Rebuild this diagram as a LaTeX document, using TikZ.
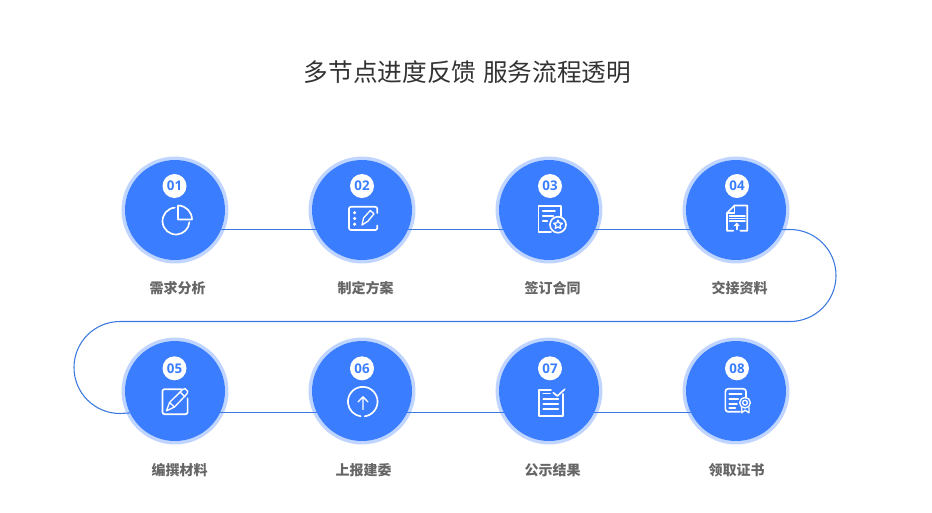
\documentclass[tikz,border=0pt]{standalone}
\usepackage{fontspec}
\setmainfont{Noto Sans CJK SC}
\newfontfamily\numfont{Open Sans}
\definecolor{mainblue}{HTML}{3A7DFF}
\definecolor{flowblue}{HTML}{3B78E0}
\definecolor{titlegray}{HTML}{333333}
\definecolor{labelgray}{HTML}{666666}
\tikzset{
  x=0.75pt,y=-0.75pt,
  disc/.style={circle,fill=mainblue,minimum size=75pt,inner sep=0pt,outer sep=0pt},
  ringline/.style={draw=mainblue,draw opacity=.32,line width=2.7pt},
  badge/.style={circle,fill=white,minimum size=18pt,inner sep=0pt,outer sep=0pt,text=mainblue,font=\numfont\bfseries\fontsize{10}{12}\selectfont},
  steplabel/.style={text=labelgray,font=\bfseries\fontsize{10.5}{12}\selectfont,inner sep=0pt},
  flow/.style={draw=flowblue,line width=0.8pt},
  icon/.style={draw=white,line width=1.25pt,line cap=round,line join=round},
  thinicon/.style={draw=white,line width=1pt,line cap=round,line join=round}
}
\begin{document}
\begin{tikzpicture}
\useasboundingbox[fill=white] (0,0) rectangle (932,512);
\node[inner sep=0pt,text=titlegray,font=\fontsize{18.5}{22}\selectfont] (title) at (467.5,72) {多节点进度反馈\kern1pt{} 服务流程透明};
% discs
\node[disc] (n1) at (175,210) {};
\node[disc] (n2) at (362,210) {};
\node[disc] (n3) at (549,210) {};
\node[disc] (n4) at (736,210) {};
\node[disc] (n5) at (175,391) {};
\node[disc] (n6) at (362,391) {};
\node[disc] (n7) at (549,391) {};
\node[disc] (n8) at (736,391) {};
% connectors
\coordinate (r1) at (790,229.5);
\coordinate (l1) at (120,321.5);
\draw[flow] (n1.-23) -- (n2.203);
\draw[flow] (n2.-23) -- (n3.203);
\draw[flow] (n3.-23) -- (n4.203);
\draw[flow] (n4.-23) -- (r1) arc[start angle=90,end angle=-90,radius=34.5pt]
  -- (l1) arc[start angle=90,end angle=270,radius=34.5pt] -- (n5.206.5);
\draw[flow] (n5.-26.5) -- (n6.206.5);
\draw[flow] (n6.-26.5) -- (n7.206.5);
\draw[flow] (n7.-26.5) -- (n8.206.5);
% rings
\foreach \n in {n1,n2,n3,n4,n5,n6,n7,n8} \draw[ringline] (\n) circle[radius=38.75pt];
% badges
\node[badge] (b1) at (174.5,186) {01};
\node[badge] (b2) at (362,186) {02};
\node[badge] (b3) at (550,186) {03};
\node[badge] (b4) at (737,186) {04};
\node[badge] (b5) at (174.5,368.3) {05};
\node[badge] (b6) at (362,368.3) {06};
\node[badge] (b7) at (550,368.3) {07};
\node[badge] (b8) at (737,368.3) {08};
% labels
\node[steplabel] (t1) at (177.5,288) {需求分析};
\node[steplabel] (t2) at (365.5,288) {制定方案};
\node[steplabel] (t3) at (552.5,288) {签订合同};
\node[steplabel] (t4) at (739.5,288) {交接资料};
\node[steplabel] (t5) at (179.5,470) {编撰材料};
\node[steplabel] (t6) at (363.5,470) {上报建委};
\node[steplabel] (t7) at (552.5,470) {公示结果};
\node[steplabel] (t8) at (736.5,470) {领取证书};
% icon 1: pie
\draw[icon] (174.8,207.6) arc[start angle=95,end angle=355,radius=10.1pt];
\draw[icon] (178,205.5) -- (178,219.5) -- (192,219.5) arc[start angle=0,end angle=90,radius=10.5pt];
% icon 2: board and pencil
\draw[icon,rounded corners=1.5pt] (377.3,213) -- (377.3,206.8) -- (349,206.8) -- (349,230) -- (377.3,230) -- (377.3,225.5);
\fill[white] (354.6,212.7) circle[radius=1.3pt] (354.6,218.5) circle[radius=1.3pt] (354.6,224.2) circle[radius=1.3pt];
\draw[thinicon] (362,225) -- (363.5,218) -- (370.3,210.5) -- (374,213.8) -- (367.8,221.3) -- cycle;
% icon 3: document with seal
\draw[icon] (560.7,216.5) -- (560.7,205.8) -- (538.4,205.8) -- (538.4,232.3) -- (551,232.3);
\draw[icon] (542.7,211) -- (555,211) (542.7,216) -- (553.3,216) (542.7,221) -- (547.3,221);
\draw[icon] (558,224.7) circle[radius=6pt];
\begin{scope}[shift={(558,224.7)}]
\draw[thinicon] (0,-4.5) -- (1.29,-1.78) -- (4.28,-1.39) -- (2.09,.68) -- (2.65,3.64) -- (0,2.2) -- (-2.65,3.64) -- (-2.09,.68) -- (-4.28,-1.39) -- (-1.29,-1.78) -- cycle;
\end{scope}
% icon 4: document with bars and arrow
\draw[icon] (733.3,230.7) -- (727,230.7) -- (727,213) -- (734.5,205.5) -- (747.3,205.5) -- (747.3,230.7) -- (740.3,230.7);
\draw[icon] (734.5,205.5) -- (734.5,213) -- (727,213);
\draw[icon] (729.6,216) -- (745,216) (729.6,218.5) -- (745,218.5) (729.6,221) -- (745,221);
\draw[icon] (736.7,229.5) -- (736.7,224);
\fill[white] (736.7,222.5) -- (739.7,226) -- (733.7,226) -- cycle;
% icon 5: box and pencil
\draw[icon,rounded corners=1.5pt] (181.5,389.2) -- (162.5,389.2) -- (162.5,414.2) -- (187.6,414.2) -- (187.6,398.3);
\draw[thinicon] (166.5,410.8) -- (169.5,402.5) -- (182.5,389.6) -- (185,388.6) -- (187.8,391.4) -- (187,393.8) -- (174.5,407) -- cycle;
\draw[thinicon] (180.2,392) -- (185,396.8) (169.5,402.5) -- (174.5,407);
% icon 6: upload circle
\draw[icon] (364.8,416.3) arc[start angle=278,end angle=262+360,radius=11.1pt];
\draw[thinicon] (363,409.5) -- (363,396.8) (358,402) -- (363,396.8) -- (368,402);
% icon 7: checklist
\draw[icon] (551,390) -- (539.2,390) -- (539.2,415.7) -- (562.7,415.7) -- (562.7,394);
\draw[icon] (553.3,392.7) -- (557.3,396) -- (564.7,389.3);
\draw[icon] (543.3,393.4) -- (550,393.4) (543.3,399) -- (558.3,399) (543.3,404) -- (558.3,404) (543.3,409.3) -- (558.3,409.3);
% icon 8: certificate
\draw[icon,rounded corners=2pt] (746,398) -- (746,388.8) -- (725.4,388.8) -- (725.4,411.8) -- (740,411.8);
\draw[icon] (729.3,394) -- (741.7,394) (729.3,399.2) -- (738.3,399.2) (729.3,404) -- (737,404) (729.3,408.3) -- (735.3,408.3);
\draw[thinicon] (745,402.7) circle[radius=4pt] (745,402.7) circle[radius=1.8pt];
\draw[thinicon] (741.7,407.5) -- (741.7,412.8) -- (745,410.2) -- (749,412.8) -- (749,407.5);
\end{tikzpicture}
\end{document}
